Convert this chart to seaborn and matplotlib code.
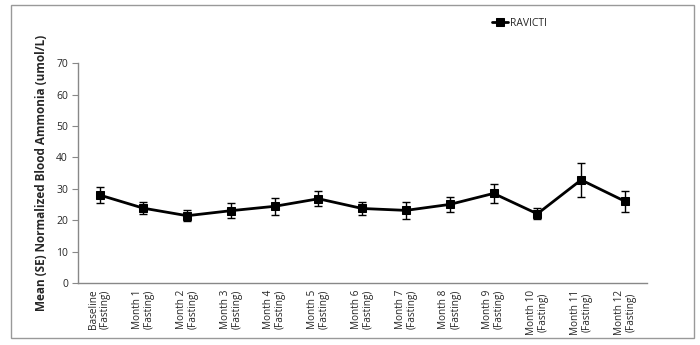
import matplotlib
matplotlib.use("Agg")
import matplotlib.pyplot as plt
import seaborn as sns
import pandas as pd
import numpy as np
from matplotlib.patches import Rectangle

categories = ["Baseline\n(Fasting)", "Month 1\n(Fasting)", "Month 2\n(Fasting)", "Month 3\n(Fasting)",
              "Month 4\n(Fasting)", "Month 5\n(Fasting)", "Month 6\n(Fasting)", "Month 7\n(Fasting)",
              "Month 8\n(Fasting)", "Month 9\n(Fasting)", "Month 10\n(Fasting)", "Month 11\n(Fasting)",
              "Month 12\n(Fasting)"]
means = [28.0, 23.8, 21.4, 23.0, 24.4, 26.8, 23.7, 23.1, 25.0, 28.5, 22.0, 32.8, 26.0]
se = [2.4, 2.0, 1.7, 2.4, 2.7, 2.4, 2.2, 2.6, 2.4, 3.0, 1.7, 5.3, 3.4]
series_name = "RAVICTI"

sns.set_style("white")
plt.rcParams['font.family'] = ['Open Sans', 'DejaVu Sans']

fig = plt.figure(figsize=(7, 3.45), dpi=100)
ax = fig.add_axes([0.111, 0.180, 0.813, 0.637])

df = pd.DataFrame({"pos": np.arange(len(categories)), "mean": means, "se": se})
sns.lineplot(data=df, x="pos", y="mean", marker="s", markersize=6, color="black",
             linewidth=2, markeredgecolor="black", ax=ax, label=series_name)
ax.errorbar(df["pos"], df["mean"], yerr=df["se"], fmt="none", ecolor="black",
            elinewidth=1, capsize=3, capthick=1)

ax.set_xlim(-0.5, len(categories) - 0.5)
ax.set_ylim(0, 70)
ax.set_yticks(range(0, 71, 10))
ax.set_xticks(np.arange(len(categories)))
ax.set_xticklabels(categories, rotation=90, fontsize=7.2, linespacing=1.1)
ax.set_xticks(np.arange(-0.5, len(categories), 1), minor=True)
ax.tick_params(axis="x", which="major", length=0, pad=5)
ax.tick_params(axis="x", which="minor", length=4, color="#888888", direction="out")
ax.tick_params(axis="y", length=4, color="#888888", direction="out", labelsize=7.5, pad=3, left=True)
ax.set_xlabel("")
ax.set_ylabel("Mean (SE) Normalized Blood Ammonia (umol/L)", fontsize=8.5, fontweight="bold", labelpad=6)

for s in ["top", "right"]:
    ax.spines[s].set_visible(False)
for s in ["left", "bottom"]:
    ax.spines[s].set_color("#888888")
    ax.spines[s].set_linewidth(1)

ax.legend(loc="upper left", bbox_to_anchor=(0.69, 0.975), bbox_transform=fig.transFigure,
          frameon=False, fontsize=7.5, handlelength=1.5, handletextpad=0.2, markerscale=0.9)

fig.patches.append(Rectangle((0.016, 0.02), 0.976, 0.965, transform=fig.transFigure,
                             fill=False, edgecolor="#999999", linewidth=1))

fig.savefig("out.png", dpi=100)
